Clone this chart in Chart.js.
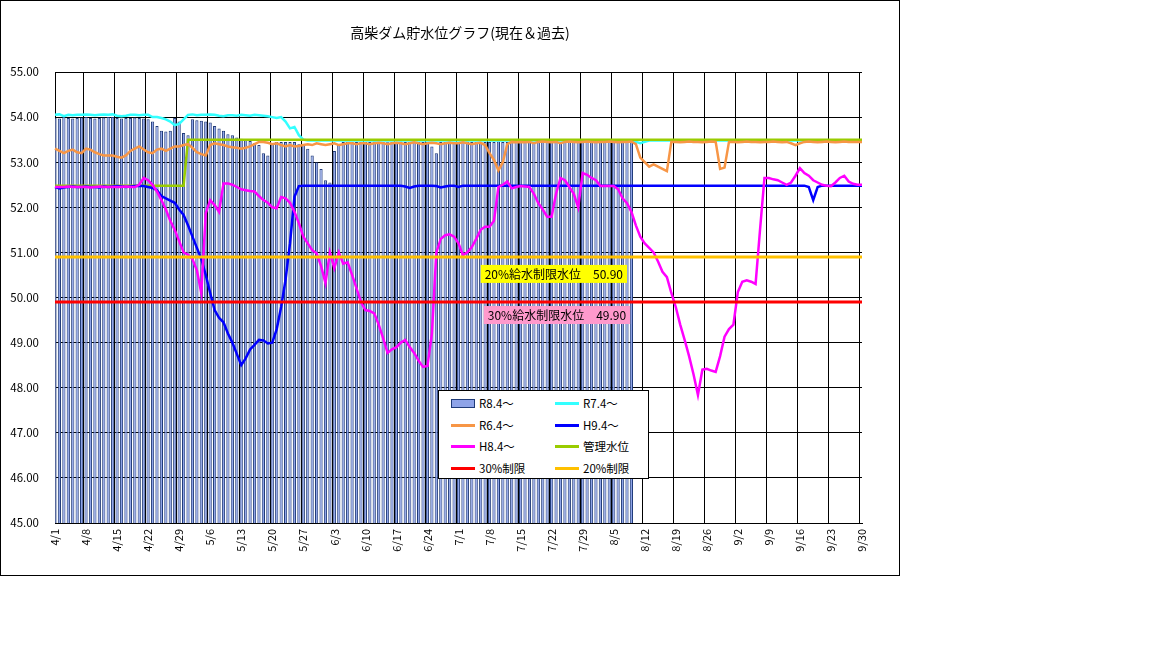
<!DOCTYPE html>
<html><head><meta charset="utf-8">
<script src="https://cdn.jsdelivr.net/npm/chart.js@4/dist/chart.umd.min.js"></script>
<style>
body{margin:0;background:#fff;font-family:"Noto Sans CJK JP",sans-serif;}
#frame{position:absolute;left:0;top:0;width:898px;height:574px;border:1px solid #000;}
#wrap{position:absolute;left:0;top:0;width:900px;height:576px;}
#title{position:absolute;left:0;width:920px;top:22px;text-align:center;font-size:14px;color:#000;}
#legend{position:absolute;left:438px;top:390px;width:209px;height:87px;border:1px solid #000;background:#fff;font-size:11.5px;}
.it{position:absolute;height:16px;line-height:16px;}
.mk{position:absolute;left:0;top:7px;width:24px;height:3px;}
.tx{position:absolute;left:28px;top:0;white-space:nowrap;}
</style></head><body>
<div id="frame"></div>
<div id="wrap"><canvas id="c" width="900" height="576"></canvas></div>
<div id="title">高柴ダム貯水位グラフ(現在＆過去)</div>
<div id="legend"></div>
<script>
const monthStarts=[[4,30],[5,31],[6,30],[7,31],[8,31],[9,30]];
const categories=[];
for(const [m,n] of monthStarts){for(let d=1;d<=n;d++)categories.push(m+'/'+d);}
const yTicks=[45,46,47,48,49,50,51,52,53,54,55];
const seriesNames=['R8.4～','R7.4～','R6.4～','H9.4～','H8.4～','管理水位','30%制限','20%制限'];
const r8=[53.98,53.97,54.0,53.98,53.97,53.98,53.99,
54.0,53.98,53.97,53.98,53.99,54.0,54.0,
53.98,53.97,53.98,53.98,53.99,53.98,53.97,
53.95,53.9,53.8,53.7,53.68,53.7,53.98,
53.9,53.65,53.6,53.95,53.93,53.92,53.9,
53.88,53.8,53.75,53.7,53.62,53.6,53.55,
53.52,53.5,53.47,53.42,53.38,53.2,53.15,
53.4,53.45,53.45,53.45,53.45,53.45,53.4,
53.38,53.3,53.15,53.0,52.85,52.6,52.55,
53.25,53.4,53.45,53.45,53.45,53.45,53.45,
53.45,53.45,53.46,53.45,53.45,53.44,53.45,
53.45,53.46,53.45,53.45,53.45,53.45,53.45,
53.45,53.35,53.2,53.45,53.45,53.46,53.45,
53.45,53.45,53.46,53.45,53.45,53.44,53.45,
53.45,53.45,53.46,53.45,53.45,53.45,53.45,
53.45,53.46,53.45,53.45,53.45,53.45,53.46,
53.45,53.45,53.45,53.46,53.45,53.45,53.45,
53.45,53.46,53.45,53.45,53.45,53.45,53.45,
53.45,53.45,53.46,53.45,53.45];
const r7=[54.05,54.06,54.02,54.05,54.04,54.05,54.05,
54.06,54.05,54.04,54.05,54.06,54.05,54.06,
54.03,54.02,54.03,54.05,54.05,54.04,54.05,
54.05,54.0,54.0,53.98,53.95,53.9,53.82,
53.85,53.95,54.05,54.06,54.04,54.05,54.05,
54.06,54.05,54.03,54.02,54.04,54.04,54.03,
54.05,54.04,54.03,54.05,54.04,54.03,54.02,
54.0,53.98,54.0,53.9,53.75,53.78,53.6,
53.5,53.48,53.48,53.48,53.48,53.48,53.48,
53.48,53.48,53.48,53.48,53.48,53.48,53.48,
53.48,53.48,53.48,53.48,53.48,53.48,53.48,
53.48,53.48,53.48,53.48,53.48,53.48,53.48,
53.48,53.48,53.48,53.48,53.48,53.48,53.48,
53.48,53.48,53.48,53.48,53.48,53.48,53.48,
53.48,53.48,53.48,53.48,53.48,53.48,53.48,
53.48,53.48,53.48,53.48,53.48,53.48,53.48,
53.48,53.48,53.48,53.48,53.48,53.48,53.48,
53.48,53.48,53.48,53.48,53.48,53.48,53.48,
53.48,53.48,53.48,53.48,53.48,53.45,53.42,
53.45,53.48,53.48,53.48,53.48,53.48,53.48,
53.48,53.48,53.48,53.48,53.48,53.48,53.48,
53.48,53.48,53.48,53.48,53.48,53.48,53.48,
53.48,53.48,53.48,53.48,53.48,53.48,53.48,
53.48,53.48,53.48,53.48,53.48,53.48,53.48,
53.48,53.48,53.48,53.48,53.48,53.48,53.48,
53.48,53.48,53.48,53.48,53.48,53.48,53.48,
53.48];
const r6=[53.3,53.25,53.2,53.25,53.28,53.22,53.2,
53.3,53.28,53.22,53.18,53.15,53.15,53.15,
53.12,53.1,53.15,53.25,53.3,53.35,53.28,
53.22,53.2,53.28,53.3,53.25,53.3,53.35,
53.35,53.38,53.4,53.32,53.22,53.18,53.15,
53.38,53.42,53.4,53.38,53.35,53.33,53.32,
53.3,53.32,53.35,53.4,53.45,53.45,53.43,
53.4,53.42,53.38,53.35,53.38,53.35,53.36,
53.38,53.4,53.38,53.42,53.4,53.38,53.4,
53.42,53.38,53.4,53.42,53.42,53.4,53.42,
53.42,53.4,53.42,53.43,53.42,53.4,53.42,
53.43,53.42,53.4,53.42,53.44,53.42,53.4,
53.42,53.43,53.42,53.4,53.42,53.43,53.42,
53.42,53.44,53.42,53.4,53.42,53.43,53.38,
53.2,53.05,52.82,53.0,53.4,53.45,53.44,
53.45,53.44,53.45,53.42,53.45,53.46,53.45,
53.44,53.45,53.42,53.45,53.46,53.45,53.44,
53.45,53.46,53.45,53.44,53.45,53.45,53.46,
53.45,53.44,53.45,53.45,53.46,53.4,53.1,
53.0,52.9,52.95,52.9,52.85,52.8,53.45,
53.45,53.44,53.45,53.46,53.45,53.45,53.44,
53.45,53.46,53.45,52.85,52.88,53.45,53.45,
53.44,53.45,53.46,53.45,53.45,53.44,53.45,
53.45,53.46,53.45,53.44,53.45,53.42,53.38,
53.42,53.45,53.46,53.45,53.44,53.45,53.46,
53.45,53.44,53.45,53.46,53.45,53.45,53.45,
53.45];
const h9=[52.45,52.42,52.44,52.45,52.46,52.45,52.45,
52.46,52.45,52.45,52.44,52.46,52.45,52.46,
52.47,52.46,52.45,52.46,52.47,52.48,52.47,
52.45,52.43,52.38,52.25,52.2,52.15,52.1,
51.95,51.83,51.6,51.35,51.1,50.85,50.5,
50.1,49.72,49.55,49.45,49.2,49.0,48.75,
48.5,48.65,48.85,48.95,49.06,49.05,48.98,
49.0,49.3,49.79,50.4,51.2,52.23,52.47,
52.48,52.48,52.48,52.48,52.48,52.48,52.48,
52.48,52.48,52.48,52.48,52.48,52.48,52.48,
52.48,52.48,52.48,52.48,52.48,52.48,52.48,
52.48,52.48,52.46,52.43,52.46,52.48,52.48,
52.48,52.48,52.47,52.44,52.46,52.48,52.48,
52.45,52.48,52.48,52.48,52.48,52.48,52.48,
52.48,52.48,52.48,52.48,52.48,52.48,52.48,
52.48,52.48,52.48,52.48,52.48,52.48,52.48,
52.48,52.48,52.48,52.48,52.48,52.48,52.48,
52.48,52.48,52.48,52.48,52.48,52.48,52.48,
52.48,52.48,52.48,52.48,52.48,52.48,52.48,
52.48,52.48,52.48,52.48,52.48,52.48,52.48,
52.48,52.48,52.48,52.48,52.48,52.48,52.48,
52.48,52.48,52.48,52.48,52.48,52.48,52.48,
52.48,52.48,52.48,52.48,52.48,52.48,52.48,
52.48,52.48,52.48,52.48,52.48,52.48,52.48,
52.48,52.48,52.45,52.16,52.45,52.48,52.48,
52.48,52.48,52.48,52.48,52.48,52.48,52.48,
52.48];
const h8=[52.45,52.45,52.45,52.46,52.45,52.45,52.45,
52.45,52.44,52.45,52.46,52.45,52.45,52.45,
52.45,52.45,52.46,52.45,52.45,52.5,52.65,
52.6,52.5,52.35,52.16,51.95,51.7,51.5,
51.25,51.0,50.95,50.85,50.6,50.1,51.87,
52.16,52.05,51.9,52.53,52.53,52.5,52.45,
52.4,52.38,52.36,52.35,52.25,52.16,52.1,
52.0,51.98,52.23,52.2,52.1,51.9,51.65,
51.35,51.2,51.05,50.98,50.7,50.32,51.0,
50.65,51.0,50.75,50.78,50.5,50.2,49.9,
49.72,49.7,49.65,49.4,49.1,48.77,48.85,
48.9,49.0,49.06,48.9,48.77,48.6,48.46,
48.48,49.2,51.0,51.3,51.38,51.4,51.35,
51.2,50.94,51.0,51.12,51.3,51.5,51.57,
51.57,51.7,52.45,52.5,52.57,52.42,52.45,
52.47,52.46,52.45,52.3,52.09,51.95,51.79,
51.79,52.3,52.65,52.6,52.45,52.3,52.0,
52.76,52.72,52.65,52.6,52.47,52.47,52.47,
52.47,52.4,52.2,52.09,51.9,51.6,51.35,
51.2,51.1,51.0,50.8,50.57,50.45,50.1,
49.79,49.4,49.06,48.7,48.3,47.84,48.4,
48.42,48.38,48.35,48.7,49.13,49.3,49.4,
50.12,50.35,50.38,50.35,50.3,51.5,52.65,
52.65,52.62,52.6,52.55,52.5,52.55,52.7,
52.87,52.76,52.7,52.6,52.55,52.5,52.48,
52.47,52.55,52.65,52.7,52.57,52.52,52.5,
52.5];
const kanriLow=52.48, kanriHigh=53.5, kanriChangeIndex=30;
const limit30=49.9, limit20=50.9;
const kanri=categories.map((_,i)=>i<kanriChangeIndex?kanriLow:kanriHigh);
const lim30=categories.map(()=>limit30);
const lim20=categories.map(()=>limit20);
const limitLabels=[['20%給水制限水位　50.90',limit20,'#ffff00',96,8],['30%給水制限水位　49.90',limit30,'#ff99cc',96.7,4]];

const colors=['#8ea3e8','#33ffff','#f79646','#0000ff','#ff00ff','#99cc00','#ff0000','#ffc000'];
const lineDs=(i,data,w,ord)=>({type:'line',label:seriesNames[i],data,borderColor:colors[i],backgroundColor:colors[i],borderWidth:w,pointRadius:0,tension:0,order:ord});

const labelPlugin={id:'limlabels',afterDatasetsDraw(chart){
  const {ctx,scales:{x,y}}=chart;ctx.save();
  ctx.font='12px "Noto Sans CJK JP"';ctx.textBaseline='middle';
  for(const [t,v,bg,xi,off] of limitLabels){
    const px=x.getPixelForValue(xi), py=y.getPixelForValue(v)+off;
    const w=ctx.measureText(t).width+8;
    ctx.fillStyle=bg;ctx.fillRect(px,py,w,18);
    ctx.fillStyle='#000';ctx.fillText(t,px+4,py+9.5);
  }
  ctx.restore();
}};

new Chart(document.getElementById('c'),{
  data:{labels:categories,datasets:[
    {type:'bar',label:seriesNames[0],data:r8,backgroundColor:colors[0],borderColor:'#1f3a78',borderWidth:1,barPercentage:0.72,categoryPercentage:1,order:20},
    lineDs(1,r7,2.5,8),lineDs(2,r6,2.5,6),lineDs(5,kanri,2.5,7),lineDs(3,h9,2.5,5),lineDs(4,h8,2.5,4),
    lineDs(6,lim30,3,3),lineDs(7,lim20,3,3)
  ]},
  options:{responsive:false,animation:false,
    layout:{padding:{left:0,right:38,top:72,bottom:0}},
    plugins:{legend:{display:false},tooltip:{enabled:false}},
    scales:{
      x:{offset:false,afterFit:s=>{s.height=53;},
        grid:{color:c=>c.index%7===0?'#000':'transparent',lineWidth:1,drawTicks:false},
        border:{color:'#000'},
        ticks:{autoSkip:false,minRotation:90,maxRotation:90,color:'#000',font:{size:11,family:'"Noto Sans CJK JP"'},padding:6,
          callback:(v,i)=>i%7===0?categories[i]:''}},
      y:{min:yTicks[0],max:yTicks[yTicks.length-1],afterFit:s=>{s.width=55;},
        afterBuildTicks:s=>{s.ticks=yTicks.map(v=>({value:v}));},
        grid:{color:'#000',drawTicks:false},border:{color:'#000'},
        ticks:{color:'#000',font:{size:11.5,family:'"Noto Sans CJK JP"'},padding:16,callback:v=>Number(v).toFixed(2)}}
    }},
  plugins:[labelPlugin]
});

const lg=document.getElementById('legend');
const pos=[[0,12,0],[1,116,0],[2,12,1],[3,116,1],[4,12,2],[5,116,2],[6,12,3],[7,116,3]];
for(const [i,l,r] of pos){
  const d=document.createElement('div');d.className='it';d.style.left=l+'px';d.style.top=(4+r*21.5)+'px';
  const mk=i===0?'<div class="mk" style="top:4px;height:7px;background:'+colors[0]+';border:1px solid #1f3a78;width:22px"></div>':'<div class="mk" style="background:'+colors[i]+'"></div>';
  d.innerHTML=mk+'<div class="tx">'+seriesNames[i]+'</div>';lg.appendChild(d);
}
</script></body></html>
